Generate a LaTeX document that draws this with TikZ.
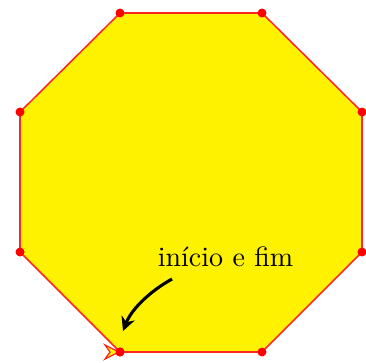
\documentclass[tikz,border=0pt]{standalone}
\usetikzlibrary{arrows.meta}
\begin{document}
\begin{tikzpicture}[x=0.357pt,y=-0.357pt,
  edge/.style={draw=red!85,line width=0.55pt,fill=yellow},
  vdot/.style={circle,fill=red,inner sep=0pt,minimum size=3.2pt},
  pointer/.style={line width=1.1pt,-{Stealth[length=5pt,width=5pt]}}]
\useasboundingbox (0,0) rectangle (366,362);
\coordinate (v1) at (120,352);
\coordinate (v2) at (262,352);
\coordinate (v3) at (362,252);
\coordinate (v4) at (362,112);
\coordinate (v5) at (262,13);
\coordinate (v6) at (120,13);
\coordinate (v7) at (20,112);
\coordinate (v8) at (20,252);
\path[edge] (v1) -- (v2) -- (v3) -- (v4) -- (v5) -- (v6) -- (v7) -- (v8) -- cycle;
\foreach \v in {v1,v2,v3,v4,v5,v6,v7,v8}
  \node[vdot] at (\v) {};
\path[draw=red!85,fill=yellow,line width=0.45pt,line join=miter]
  (119,352) -- (105,345) -- (110,352) -- (105,359) -- cycle;
\node[vdot] at (v1) {};
\node[anchor=base,inner sep=0pt] (lbl) at (225.5,266) {início e fim};
\coordinate (as) at (172,279);
\coordinate (ae) at (123,331);
\draw[pointer] (as) .. controls (152,290) and (132,308) .. (ae);
\end{tikzpicture}
\end{document}
